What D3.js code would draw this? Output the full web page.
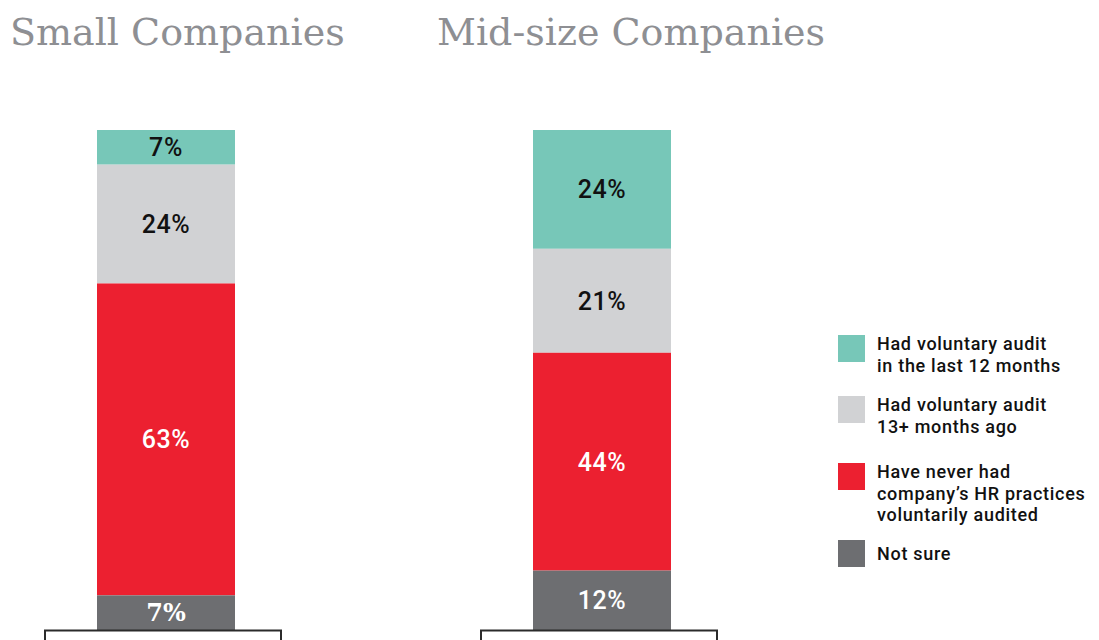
<!DOCTYPE html>
<html>
<head>
<meta charset="utf-8">
<script src="https://cdn.jsdelivr.net/npm/d3@7"></script>
<style>
  body { margin: 0; background: #fff; }
  svg { display: block; }
</style>
</head>
<body>
<div id="chart"></div>
<script>
// data
const groups = ["Small Companies", "Mid-size Companies"];
const categories = [
  "Had voluntary audit in the last 12 months",
  "Had voluntary audit 13+ months ago",
  "Have never had company’s HR practices voluntarily audited",
  "Not sure"
];
const legendLines = [
  ["Had voluntary audit", "in the last 12 months"],
  ["Had voluntary audit", "13+ months ago"],
  ["Have never had", "company’s HR practices", "voluntarily audited"],
  ["Not sure"]
];
const smallValues = [7, 24, 63, 7];
const midValues = [24, 21, 44, 12];

const colors = ["#77c7b8", "#d1d2d4", "#ec2030", "#6d6e71"];
const labelColors = ["#111", "#111", "#fff", "#fff"];

const width = 1099, height = 640;

const svg = d3.select("#chart")
  .append("svg")
    .attr("width", width)
    .attr("height", height);

// scales
const y = d3.scaleLinear()
  .domain([0, 101])
  .range([130, 630]);

const x = d3.scaleOrdinal()
  .domain(groups)
  .range([97, 533]);
const barWidth = 138;

const titleX = d3.scaleOrdinal().domain(groups).range([10, 437]);

// titles
svg.selectAll(".title")
  .data(groups)
  .join("text")
  .attr("class", "title")
  .attr("x", d => titleX(d))
  .attr("y", 45)
  .style("font-family", "'DejaVu Serif', serif")
  .style("font-size", "38px")
  .style("fill", "#8e8f93")
  .text(d => d);

// stacked bars
const rows = [smallValues, midValues];
groups.forEach((g, gi) => {
  const vals = rows[gi];
  let acc = 0;
  const segs = vals.map((v, i) => {
    const s = { i: i, v: v, y0: acc, y1: acc + v };
    acc += v;
    return s;
  });

  const grp = svg.append("g");

  grp.selectAll("rect")
    .data(segs)
    .join("rect")
    .attr("x", x(g))
    .attr("y", d => y(d.y0))
    .attr("width", barWidth)
    .attr("height", d => y(d.y1) - y(d.y0))
    .attr("fill", d => colors[d.i]);

  // the bottom label of the first bar is set in a slab serif in the original
  const serif = d => gi === 0 && d.i === 3;

  grp.selectAll("text")
    .data(segs)
    .join("text")
    .attr("x", x(g) + barWidth / 2)
    .attr("y", d => (y(d.y0) + y(d.y1)) / 2)
    .attr("dy", "0.36em")
    .attr("text-anchor", "middle")
    .style("font-family", d => serif(d) ? "'DejaVu Serif', serif" : "Roboto, sans-serif")
    .style("font-size", d => serif(d) ? "24px" : "25px")
    .style("font-weight", d => serif(d) ? "bold" : "500")
    .style("letter-spacing", d => serif(d) ? "0px" : "0.6px")
    .style("fill", d => labelColors[d.i])
    .text(d => d.v + "%");

  // box under the bar
  grp.append("rect")
    .attr("x", x(g) - 52)
    .attr("y", 630.5)
    .attr("width", 236)
    .attr("height", 40)
    .attr("fill", "#fff")
    .attr("stroke", "#2b2b2b")
    .attr("stroke-width", 2);
});

// legend
const legendTop = [335, 396, 463, 540];
const legend = svg.append("g");

legendLines.forEach((lines, i) => {
  legend.append("rect")
    .attr("x", 838)
    .attr("y", legendTop[i])
    .attr("width", 27)
    .attr("height", 27)
    .attr("fill", colors[i]);

  legend.append("text")
    .attr("x", 877)
    .attr("y", legendTop[i] + (lines.length === 1 ? 20 : 15))
    .style("font-family", "Roboto, sans-serif")
    .style("font-size", "18px")
    .style("font-weight", "500")
    .style("letter-spacing", "0.7px")
    .style("fill", "#111")
    .selectAll("tspan")
    .data(lines)
    .join("tspan")
    .attr("x", 877)
    .attr("dy", (d, j) => j === 0 ? 0 : 21.5)
    .text(d => d);
});
</script>
</body>
</html>
